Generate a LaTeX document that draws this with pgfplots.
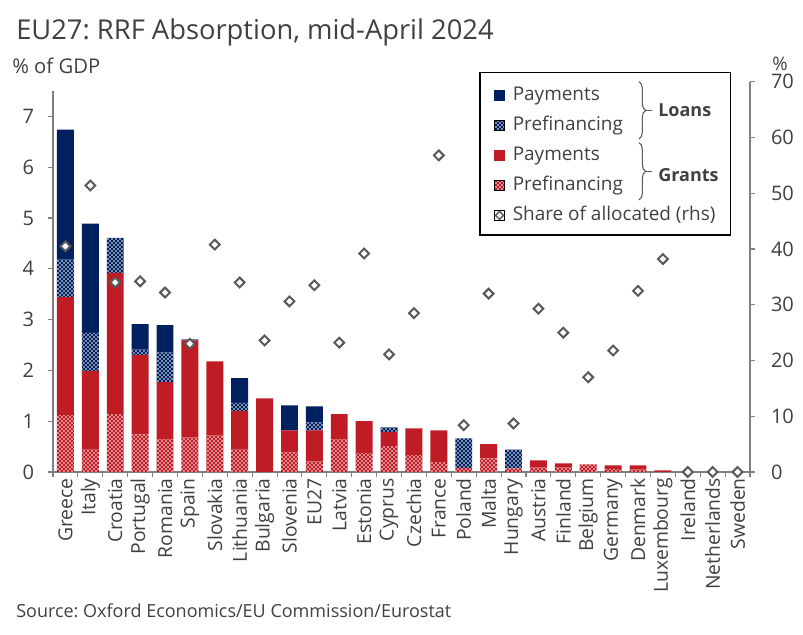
\documentclass[border=0pt]{standalone}
\usepackage{pgfplots}
\pgfplotsset{compat=1.18}
\usepackage{pgfplotstable}
\usepackage{fontspec}
\setmainfont{Open Sans}
\usetikzlibrary{patterns,decorations.pathreplacing}
\definecolor{navy}{RGB}{0,32,96}
\definecolor{redc}{RGB}{192,28,38}
\definecolor{txt}{RGB}{64,64,64}
\definecolor{axgray}{RGB}{128,128,128}
\definecolor{dgray}{RGB}{89,89,89}
\frenchspacing
\pgfdeclarepatternformonly{mydots}{\pgfqpoint{-1pt}{-1pt}}{\pgfqpoint{4pt}{4pt}}{\pgfqpoint{3pt}{3pt}}{%
  \pgfpathcircle{\pgfqpoint{0pt}{0pt}}{.6pt}%
  \pgfpathcircle{\pgfqpoint{1.5pt}{1.5pt}}{.6pt}%
  \pgfusepath{fill}}

\pgfplotstableread{
x gp gpay lpref lpay
0 1.12 2.32 0.74 2.56
1 0.44 1.55 0.75 2.15
2 1.14 2.78 0.69 0
3 0.74 1.56 0.11 0.50
4 0.64 1.13 0.58 0.54
5 0.68 1.91 0.02 0
6 0.72 1.46 0 0
7 0.44 0.76 0.16 0.49
8 0 1.45 0 0
9 0.38 0.44 0 0.49
10 0.21 0.61 0.15 0.32
11 0.64 0.50 0 0
12 0.37 0.63 0 0
13 0.51 0.28 0.09 0
14 0.33 0.53 0 0
15 0.20 0.62 0 0
16 0.08 0 0.58 0
17 0.27 0.28 0 0
18 0.07 0 0.37 0
19 0.09 0.14 0 0
20 0.09 0.08 0 0
21 0.15 0 0 0
22 0.06 0.07 0 0
23 0.05 0.08 0 0
24 0 0.03 0 0
25 0 0 0 0
26 0 0 0 0
27 0 0 0 0
}\bars

\pgfplotstableread{
x share
0 40.5
1 51.4
2 34.0
3 34.2
4 32.2
5 23.0
6 40.8
7 34.0
8 23.6
9 30.6
10 33.5
11 23.2
12 39.2
13 21.1
14 28.5
15 56.8
16 8.4
17 32.0
18 8.7
19 29.3
20 25.0
21 17.0
22 21.8
23 32.5
24 38.2
25 0
26 0
27 0
}\shares

\begin{document}
\begin{tikzpicture}
\begin{axis}[
  scale only axis, width=522.75pt, height=285.75pt,
  xmin=-0.5, xmax=27.5, ymin=0, ymax=7.5,
  axis x line*=bottom, axis y line*=left,
  axis line style={axgray, line width=0.8pt},
  ytick={0,...,7},
  xtick={-0.5,0.5,...,27.5}, xticklabels={},
  extra x ticks={0,...,27},
  extra x tick labels={Greece,Italy,Croatia,Portugal,Romania,Spain,Slovakia,Lithuania,Bulgaria,Slovenia,EU27,Latvia,Estonia,Cyprus,Czechia,France,Poland,Malta,Hungary,Austria,Finland,Belgium,Germany,Denmark,Luxembourg,Ireland,Netherlands,Sweden},
  extra x tick style={major tick length=0pt},
  tick align=outside, major tick length=3.75pt,
  tick style={axgray, line width=0.8pt},
  x tick label style={rotate=90, anchor=east, font=\fontsize{14.5}{17}\selectfont, text=txt, inner sep=4.5pt},
  y tick label style={font=\fontsize{15}{18}\selectfont, text=txt, xshift=-7pt},
  /pgf/number format/assume math mode=true,
  ybar stacked, bar width=0.68,
]
\addplot[fill=redc, draw=none, postaction={pattern=mydots, pattern color=white}] table[x=x,y=gp]{\bars};
\addplot[fill=redc, draw=none] table[x=x,y=gpay]{\bars};
\addplot[fill=navy, draw=none, postaction={pattern=mydots, pattern color=white}] table[x=x,y=lpref]{\bars};
\addplot[fill=navy, draw=none] table[x=x,y=lpay]{\bars};
\end{axis}
\begin{axis}[
  scale only axis, width=522.75pt, height=292.65pt,
  xmin=-0.5, xmax=27.5, ymin=0, ymax=70,
  axis x line=none, axis y line*=right,
  axis line style={axgray, line width=0.8pt},
  ytick={0,10,...,70},
  tick align=outside, major tick length=3.75pt,
  tick style={axgray, line width=0.8pt},
  y tick label style={font=\fontsize{15}{18}\selectfont, text=txt, xshift=8.5pt},
  /pgf/number format/assume math mode=true,
  legend style={at={(axis description cs:0.6327,0.988)}, anchor=north west, draw=none, fill=none, inner sep=0pt,
    font=\fontsize{14.2}{17}\selectfont, text=txt, row sep=9.5pt, column sep=6pt,
    nodes={inner sep=0pt, text height=10pt, text depth=3pt}},
  legend cell align=left,
]
\addlegendimage{legend image code/.code={\fill[navy] (0pt,-3.75pt) rectangle (7.5pt,3.75pt);}}
\addlegendimage{legend image code/.code={\fill[navy] (0pt,-3.75pt) rectangle (7.5pt,3.75pt);\fill[pattern=mydots, pattern color=white] (0pt,-3.75pt) rectangle (7.5pt,3.75pt);}}
\addlegendimage{legend image code/.code={\fill[redc] (0pt,-3.75pt) rectangle (7.5pt,3.75pt);}}
\addlegendimage{legend image code/.code={\fill[redc] (0pt,-3.75pt) rectangle (7.5pt,3.75pt);\fill[pattern=mydots, pattern color=white] (0pt,-3.75pt) rectangle (7.5pt,3.75pt);}}
\addplot[only marks, mark=square*, mark size=2.6pt, mark options={rotate=45, draw=dgray, fill=white, line width=1.5pt},
  legend image code/.code={\path (0pt,-3.75pt) rectangle (7.5pt,3.75pt);\draw[dgray, line width=1.1pt] (3.75pt,-3pt)--(6.75pt,0pt)--(3.75pt,3pt)--(0.75pt,0pt)--cycle;}]
  table[x=x,y=share]{\shares};
\legend{Payments,Prefinancing,Payments,Prefinancing,Share of allocated (rhs)}
\end{axis}
% legend frame, braces and group names
\draw[black, line width=0.8pt] (320.25pt,177.75pt) rectangle (508.3pt,299.5pt);
\draw[dgray, line width=0.8pt, decorate, decoration={brace, amplitude=5pt}] (439.5pt,292.7pt) -- (439.5pt,249.75pt);
\draw[dgray, line width=0.8pt] (444.5pt,271.2pt) -- (449pt,271.2pt);
\node[anchor=west, font=\fontsize{13.5}{16}\selectfont\bfseries, text=txt, inner sep=0pt] at (453.75pt,271.5pt) {Loans};
\draw[dgray, line width=0.8pt, decorate, decoration={brace, amplitude=5pt}] (439.5pt,247pt) -- (439.5pt,204pt);
\draw[dgray, line width=0.8pt] (444.5pt,225.5pt) -- (449pt,225.5pt);
\node[anchor=west, font=\fontsize{13.5}{16}\selectfont\bfseries, text=txt, inner sep=0pt] at (453.75pt,222.75pt) {Grants};
% titles
\node[anchor=base west, inner sep=0pt, font=\fontsize{20.5}{24}\selectfont, text=txt] at (-27.75pt,324pt) {EU27: RRF Absorption, mid-April 2024};
\node[anchor=base west, inner sep=0pt, font=\fontsize{15.2}{18}\selectfont, text=txt] at (-30.75pt,299pt) {\% of GDP};
\node[anchor=base west, inner sep=0pt, font=\fontsize{14}{17}\selectfont, text=txt] at (539.25pt,301pt) {\%};
\node[anchor=base west, inner sep=0pt, font=\fontsize{13.5}{16}\selectfont, text=txt] at (-27.75pt,-109.5pt) {Source: Oxford Economics/EU Commission/Eurostat};
\pgfresetboundingbox
\path[use as bounding box] (-39.75pt,-122.25pt) rectangle (562.5pt,354pt);
\end{tikzpicture}
\end{document}
